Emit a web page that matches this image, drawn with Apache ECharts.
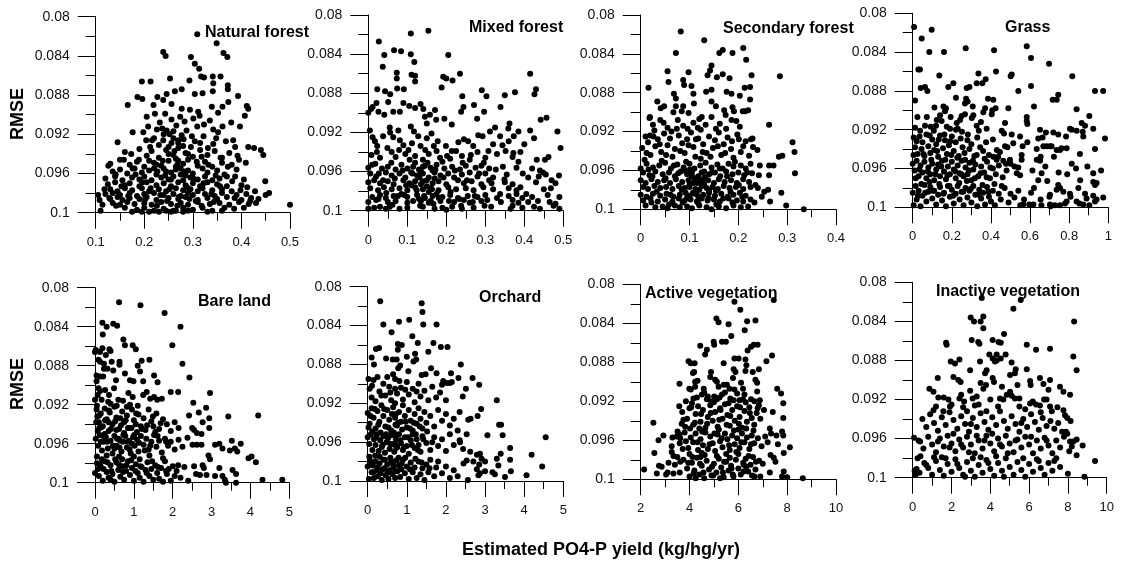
<!DOCTYPE html>
<html><head><meta charset="utf-8">
<script src="https://cdn.jsdelivr.net/npm/echarts@6/dist/echarts.min.js"></script>
<style>html,body{margin:0;padding:0;background:#fff}#c{width:1123px;height:566px}</style>
</head><body><div id="c"></div>
<script>
// ---------- DATA ----------
const panelTitles = ['Natural forest','Mixed forest','Secondary forest','Grass','Bare land','Orchard','Active vegetation','Inactive vegetation'];
// [min, max, interval] of each x axis
const xRanges = [[0.1,0.5,0.1],[0,0.5,0.1],[0,0.4,0.1],[0,1,0.2],[0,5,1],[0,5,1],[2,10,2],[0,10,2]];
const yRange = [0.08, 0.1, 0.004];
const yAxisName = 'RMSE';
const xAxisTitle = 'Estimated PO4-P yield (kg/hg/yr)';

const naturalForest = [
[0.309,0.0818],[0.349,0.0827],[0.239,0.0836],[0.244,0.0840],[0.296,0.0841],[0.363,0.0837],[0.371,0.0841],[0.304,0.0848],[0.313,0.0853],[0.317,0.0861],[0.323,0.0862],[0.341,0.0861],[0.357,0.0861],[0.253,0.0863],[0.195,0.0866],[0.213,0.0866],[0.293,0.0865],[0.342,0.0868],[0.372,0.0870],[0.372,0.0874],[0.277,0.0874],[0.263,0.0876],[0.246,0.0879],[0.227,0.0882],[0.186,0.0882],[0.196,0.0884],[0.304,0.0879],[0.320,0.0878],[0.341,0.0876],[0.393,0.0881],[0.373,0.0887],[0.411,0.0891],[0.414,0.0894],[0.407,0.0901],[0.166,0.0890],[0.219,0.0890],[0.239,0.0885],[0.256,0.0889],[0.277,0.0894],[0.294,0.0895],[0.311,0.0897],[0.314,0.0901],[0.339,0.0892],[0.352,0.0898],[0.361,0.0892],[0.205,0.0902],[0.222,0.0899],[0.243,0.0899],[0.256,0.0905],[0.274,0.0902],[0.283,0.0907],[0.301,0.0904],[0.323,0.0910],[0.335,0.0906],[0.361,0.0912],[0.379,0.0908],[0.397,0.0912],[0.176,0.0918],[0.198,0.0918],[0.208,0.0912],[0.226,0.0915],[0.246,0.0916],[0.260,0.0917],[0.277,0.0921],[0.298,0.0922],[0.322,0.0922],[0.342,0.0915],[0.352,0.0918],[0.145,0.0928],[0.204,0.0926],[0.220,0.0924],[0.239,0.0926],[0.256,0.0929],[0.270,0.0926],[0.315,0.0929],[0.342,0.0930],[0.368,0.0927],[0.383,0.0926],[0.414,0.0933],[0.426,0.0934],[0.440,0.0936],[0.445,0.0941],[0.387,0.0933],[0.392,0.0942],[0.409,0.0949],[0.173,0.0940],[0.150,0.0946],[0.158,0.0946],[0.130,0.0950],[0.126,0.0952],
[0.16,0.0938],[0.19,0.0935],[0.205,0.0942],[0.215,0.0937],[0.23,0.0944],[0.245,0.0936],[0.26,0.0941],[0.27,0.0934],[0.285,0.0939],[0.30,0.0943],[0.315,0.0936],[0.33,0.0941],[0.345,0.0937],[0.36,0.0944],[0.375,0.0939],
[0.17,0.0951],[0.185,0.0948],[0.20,0.0953],[0.22,0.0949],[0.235,0.0952],[0.25,0.0947],[0.265,0.0953],[0.28,0.0950],[0.29,0.0946],[0.31,0.0952],[0.325,0.0948],[0.34,0.0953],[0.36,0.0949],[0.38,0.0951],[0.395,0.0946],
[0.135,0.0958],[0.15,0.0956],[0.165,0.0960],[0.18,0.0955],[0.195,0.0959],[0.21,0.0957],[0.225,0.0961],[0.24,0.0955],[0.255,0.0959],[0.265,0.0956],[0.275,0.0961],[0.29,0.0957],[0.30,0.0960],[0.32,0.0955],[0.33,0.0959],[0.35,0.0957],[0.365,0.0961],[0.39,0.0956],
[0.12,0.0965],[0.14,0.0963],[0.155,0.0967],[0.175,0.0964],[0.19,0.0966],[0.20,0.0963],[0.215,0.0967],[0.235,0.0964],[0.25,0.0966],[0.26,0.0963],[0.28,0.0967],[0.295,0.0964],[0.31,0.0966],[0.325,0.0963],[0.34,0.0967],[0.355,0.0965],[0.37,0.0963],[0.405,0.0966],[0.449,0.0968],[0.387,0.0963],
[0.125,0.0971],[0.14,0.0969],[0.16,0.0972],[0.17,0.0970],[0.19,0.0973],[0.205,0.0969],[0.225,0.0972],[0.24,0.0970],[0.255,0.0973],[0.27,0.0969],[0.285,0.0972],[0.30,0.0970],[0.315,0.0973],[0.33,0.0969],[0.35,0.0971],[0.37,0.0973],[0.40,0.0972],[0.412,0.0974],
[0.13,0.0976],[0.145,0.0978],[0.16,0.0975],[0.175,0.0977],[0.195,0.0975],[0.21,0.0978],[0.23,0.0976],[0.245,0.0978],[0.265,0.0975],[0.28,0.0977],[0.295,0.0976],[0.31,0.0978],[0.32,0.0975],[0.34,0.0977],[0.36,0.0976],[0.38,0.0978],[0.428,0.0978],[0.118,0.0976],
[0.12,0.0981],[0.135,0.0980],[0.15,0.0982],[0.17,0.0980],[0.185,0.0983],[0.20,0.0981],[0.22,0.0980],[0.24,0.0982],[0.26,0.0981],[0.275,0.0983],[0.29,0.0980],[0.30,0.0982],[0.325,0.0981],[0.345,0.0983],[0.36,0.0980],[0.39,0.0982],[0.41,0.0981],[0.105,0.0982],[0.45,0.0982],[0.457,0.0980],
[0.13,0.0986],[0.145,0.0984],[0.155,0.0987],[0.17,0.0985],[0.19,0.0986],[0.205,0.0984],[0.225,0.0987],[0.25,0.0985],[0.27,0.0986],[0.285,0.0984],[0.31,0.0987],[0.33,0.0985],[0.35,0.0986],[0.37,0.0984],[0.40,0.0987],[0.42,0.0985],[0.435,0.0986],
[0.135,0.0990],[0.15,0.0992],[0.165,0.0989],[0.18,0.0991],[0.20,0.0990],[0.215,0.0992],[0.235,0.0989],[0.255,0.0991],[0.275,0.0990],[0.29,0.0992],[0.31,0.0989],[0.335,0.0991],[0.355,0.0990],[0.375,0.0992],[0.395,0.0989],[0.415,0.0991],[0.43,0.0990],[0.5,0.0992],
[0.16,0.0995],[0.185,0.0997],[0.20,0.0995],[0.22,0.0998],[0.24,0.0996],[0.26,0.0998],[0.28,0.0995],[0.30,0.0997],[0.32,0.0995],[0.34,0.0998],[0.385,0.0996],[0.405,0.0995],[0.11,0.0998],[0.175,0.0999],[0.195,0.0999],[0.21,0.0999],[0.23,0.0999],[0.245,0.0998],[0.255,0.0999],[0.265,0.0998],[0.28,0.0999],[0.29,0.0998],[0.33,0.0999],[0.36,0.0998],
[0.23,0.0931],[0.25,0.0933],[0.27,0.0929],[0.24,0.0920],[0.26,0.0924],[0.28,0.0932],[0.22,0.0955],[0.245,0.0958],[0.265,0.0945],[0.275,0.0955],[0.285,0.0962],[0.255,0.0966],[0.225,0.0951],[0.21,0.0947],[0.29,0.0940],[0.27,0.0947],[0.25,0.0940],
[0.212,0.0933],[0.238,0.0947],[0.262,0.0937],[0.281,0.0925],[0.296,0.0933],[0.308,0.0948],[0.227,0.0958],[0.243,0.0962],[0.268,0.0951],[0.283,0.0958],[0.301,0.0965],[0.318,0.0943],[0.332,0.0951],[0.347,0.0962],[0.196,0.0969],[0.213,0.0975],[0.233,0.0982],[0.252,0.0976],[0.271,0.0984],[0.288,0.0974],[0.306,0.0988],[0.322,0.0970],[0.338,0.0981],[0.356,0.0973],[0.182,0.0961],[0.167,0.0983],[0.153,0.0973],[0.142,0.0993],[0.226,0.0993],[0.247,0.0988],[0.268,0.0993],[0.293,0.0986],[0.318,0.0993],[0.343,0.0989],[0.365,0.0995],[0.381,0.0968],[0.398,0.0977],[0.418,0.0988],[0.237,0.0914],[0.252,0.0920],[0.287,0.0916],[0.304,0.0927],[0.331,0.0934],[0.216,0.0926],[0.189,0.0946],[0.176,0.0955],[0.266,0.0911],[0.232,0.0908],[0.309,0.0912],[0.348,0.0924],[0.357,0.0944],[0.372,0.0953],[0.386,0.0985],[0.202,0.0986],[0.141,0.0961],[0.128,0.0985],[0.114,0.0992],[0.108,0.0987]
];

const mixedForest = [
[0.154,0.0816],[0.109,0.0819],[0.027,0.0827],[0.041,0.0841],[0.066,0.0836],[0.084,0.0837],[0.109,0.0840],[0.118,0.0848],[0.205,0.0841],[0.037,0.0853],[0.073,0.0859],[0.073,0.0865],[0.111,0.0861],[0.12,0.0862],[0.12,0.0868],[0.192,0.0863],[0.2,0.0865],[0.216,0.0867],[0.188,0.0874],[0.235,0.0860],[0.415,0.0860],[0.43,0.0876],[0.426,0.0881],[0.023,0.0876],[0.043,0.0878],[0.056,0.0881],[0.074,0.0875],[0.091,0.0876],[0.021,0.0890],[0.011,0.0894],[0.0,0.0900],[0.026,0.0899],[0.041,0.0902],[0.051,0.0889],[0.064,0.0899],[0.081,0.0899],[0.09,0.0890],[0.105,0.0893],[0.12,0.0895],[0.134,0.0891],[0.141,0.0896],[0.158,0.0902],[0.171,0.0897],[0.174,0.0907],[0.195,0.0906],[0.214,0.0912],[0.241,0.0883],[0.238,0.0899],[0.244,0.0894],[0.271,0.0892],[0.291,0.0877],[0.303,0.0883],[0.297,0.0899],[0.279,0.0906],[0.339,0.0894],[0.35,0.0882],[0.376,0.0879],[0.362,0.0911],[0.359,0.0916],[0.457,0.0905],[0.442,0.0907],[0.415,0.0918],[0.425,0.0926],[0.385,0.0919],[0.485,0.0919],[0.493,0.0936],[0.489,0.0964],[0.145,0.0904],[0.15,0.0911],[0.007,0.0896],
[0.004,0.0918],[0.011,0.0925],[0.017,0.0929],[0.023,0.0934],[0.030,0.0946],[0.038,0.0924],[0.055,0.0915],[0.056,0.0920],[0.064,0.0925],[0.077,0.0918],[0.081,0.0928],[0.09,0.0933],[0.103,0.0938],[0.109,0.0914],[0.117,0.0919],[0.128,0.0924],[0.134,0.0934],[0.150,0.0926],[0.162,0.0921],[0.168,0.0934],[0.175,0.0939],[0.184,0.0946],[0.199,0.0934],[0.214,0.0939],[0.225,0.0939],[0.231,0.0930],[0.245,0.0927],[0.256,0.0929],[0.269,0.0934],[0.282,0.0923],[0.293,0.0924],[0.308,0.0939],[0.312,0.0919],[0.325,0.0915],[0.338,0.0924],[0.344,0.0933],[0.352,0.0939],[0.36,0.0929],[0.373,0.0924],[0.060,0.0940],[0.070,0.0945],[0.095,0.0942],[0.12,0.0944],[0.14,0.0948],[0.155,0.0942],[0.19,0.0950],[0.21,0.0947],[0.24,0.0944],[0.26,0.0948],[0.28,0.0940],[0.30,0.0946],[0.33,0.0942],[0.37,0.0945],[0.39,0.0940],[0.40,0.0932],[0.32,0.0932],[0.453,0.0948],[0.462,0.0945],[0.432,0.0948],[0.372,0.0941],
[0.0,0.0956],[0.01,0.0953],[0.035,0.0957],[0.05,0.0955],[0.07,0.0958],[0.085,0.0953],[0.10,0.0957],[0.115,0.0955],[0.13,0.0958],[0.145,0.0954],[0.16,0.0956],[0.175,0.0953],[0.195,0.0957],[0.215,0.0955],[0.235,0.0958],[0.25,0.0954],[0.275,0.0956],[0.29,0.0954],[0.31,0.0957],[0.345,0.0955],[0.38,0.0956],[0.42,0.0957],[0.44,0.0959],
[0.005,0.0962],[0.02,0.0965],[0.045,0.0961],[0.06,0.0964],[0.08,0.0962],[0.095,0.0966],[0.11,0.0961],[0.125,0.0964],[0.14,0.0962],[0.155,0.0966],[0.17,0.0961],[0.185,0.0964],[0.205,0.0962],[0.22,0.0966],[0.24,0.0963],[0.26,0.0961],[0.28,0.0965],[0.3,0.0962],[0.32,0.0966],[0.355,0.0963],[0.41,0.0966],[0.448,0.0961],[0.455,0.0963],
[0.0,0.0971],[0.015,0.0969],[0.03,0.0972],[0.05,0.0970],[0.065,0.0973],[0.09,0.0969],[0.105,0.0972],[0.12,0.0970],[0.135,0.0973],[0.15,0.0969],[0.165,0.0972],[0.18,0.0970],[0.2,0.0973],[0.23,0.0969],[0.245,0.0972],[0.265,0.0970],[0.29,0.0973],[0.31,0.0969],[0.35,0.0971],[0.37,0.0973],[0.43,0.0971],[0.47,0.0969],[0.48,0.0972],
[0.005,0.0977],[0.025,0.0979],[0.04,0.0976],[0.06,0.0978],[0.08,0.0977],[0.1,0.0979],[0.12,0.0976],[0.14,0.0978],[0.16,0.0977],[0.18,0.0979],[0.205,0.0976],[0.225,0.0978],[0.25,0.0977],[0.27,0.0979],[0.295,0.0976],[0.32,0.0978],[0.36,0.0977],[0.38,0.0979],[0.39,0.0976],[0.45,0.0978],[0.468,0.0977],
[0.01,0.0986],[0.03,0.0984],[0.045,0.0987],[0.065,0.0985],[0.085,0.0983],[0.1,0.0986],[0.125,0.0984],[0.145,0.0987],[0.165,0.0985],[0.19,0.0986],[0.21,0.0984],[0.23,0.0987],[0.255,0.0985],[0.28,0.0986],[0.3,0.0984],[0.33,0.0987],[0.36,0.0985],[0.38,0.0983],[0.395,0.0987],[0.42,0.0986],[0.46,0.0984],[0.49,0.0986],
[0.0,0.0991],[0.02,0.0989],[0.05,0.0991],[0.07,0.0990],[0.1,0.0992],[0.135,0.0990],[0.155,0.0992],[0.185,0.0990],[0.22,0.0991],[0.245,0.0989],[0.26,0.0992],[0.29,0.0990],[0.34,0.0991],[0.37,0.0989],[0.385,0.0992],[0.41,0.0991],[0.435,0.0990],[0.48,0.0993],
[0.0,0.0998],[0.015,0.0997],[0.03,0.0996],[0.045,0.0998],[0.055,0.0996],[0.08,0.0998],[0.1,0.0997],[0.14,0.0996],[0.17,0.0998],[0.19,0.0997],[0.2,0.0999],[0.215,0.0996],[0.24,0.0998],[0.27,0.0997],[0.315,0.0996],[0.365,0.0998],[0.37,0.0995],[0.395,0.0997],[0.425,0.0996],[0.44,0.0998],[0.475,0.0995],[0.49,0.0998],
[0.12,0.0951],[0.135,0.0960],[0.15,0.0975],[0.155,0.0981],[0.13,0.0988],[0.14,0.0955],[0.165,0.0959],[0.17,0.0967],[0.175,0.0983],[0.11,0.0974],[0.115,0.0990],[0.14,0.0970],[0.16,0.0990],
[0.008,0.0943],[0.018,0.0952],[0.027,0.0962],[0.038,0.0969],[0.046,0.0982],[0.059,0.0951],[0.068,0.0967],[0.076,0.0985],[0.088,0.0959],[0.097,0.0974],[0.106,0.0948],[0.113,0.0962],[0.124,0.0979],[0.131,0.0966],[0.143,0.0985],[0.152,0.0951],[0.163,0.0978],[0.172,0.0958],[0.181,0.0987],[0.193,0.0966],[0.202,0.0944],[0.211,0.0981],[0.222,0.0959],[0.233,0.0988],[0.242,0.0951],[0.253,0.0969],[0.263,0.0943],[0.273,0.0985],[0.284,0.0962],[0.296,0.0951],[0.305,0.0989],[0.316,0.0972],[0.327,0.0958],[0.338,0.0983],[0.349,0.0968],[0.026,0.0988],[0.062,0.0994],[0.092,0.0984],[0.133,0.0995],[0.167,0.0993],[0.207,0.0990],[0.238,0.0995],[0.268,0.0991],[0.298,0.0995],[0.022,0.0940],[0.049,0.0936],[0.079,0.0938],[0.112,0.0931],[0.146,0.0938],[0.178,0.0929],[0.396,0.0962],[0.405,0.0983],[0.437,0.0965],[0.465,0.0991],[0.385,0.0950]
];

const secondaryForest = [
[0.082,0.0817],[0.130,0.0826],[0.072,0.0839],[0.161,0.0839],[0.168,0.0836],[0.188,0.0839],[0.210,0.0834],[0.216,0.0846],[0.145,0.0852],[0.142,0.0857],[0.098,0.0859],[0.055,0.0858],[0.057,0.0869],[0.016,0.0875],[0.087,0.0867],[0.089,0.0872],[0.104,0.0873],[0.137,0.0862],[0.156,0.0864],[0.168,0.0861],[0.182,0.0865],[0.227,0.0862],[0.285,0.0863],[0.213,0.0875],[0.224,0.0874],[0.203,0.0883],[0.224,0.0887],[0.176,0.0879],[0.186,0.0881],[0.145,0.0877],[0.134,0.0879],[0.068,0.0881],[0.072,0.0886],[0.072,0.0894],[0.108,0.0881],[0.109,0.0891],[0.034,0.0889],[0.041,0.0896],[0.048,0.0894],[0.019,0.0905],[0.018,0.0906],[0.067,0.0900],[0.084,0.0899],[0.087,0.0894],[0.098,0.0901],[0.120,0.0907],[0.125,0.0905],[0.145,0.0889],[0.154,0.0894],[0.171,0.0898],[0.174,0.0903],[0.188,0.0895],[0.191,0.0899],[0.209,0.0899],[0.214,0.0899],[0.220,0.0898],[0.186,0.0908],[0.203,0.0915],[0.175,0.0917],[0.154,0.0917],[0.133,0.0913],[0.145,0.0905],[0.108,0.0911],[0.096,0.0917],[0.074,0.0917],[0.076,0.0908],[0.055,0.0916],[0.040,0.0908],[0.025,0.0913],[0.019,0.0924],[0.263,0.0913],[0.229,0.0927],[0.239,0.0939],[0.210,0.0935],[0.311,0.0931],[0.315,0.0941],[0.290,0.0945],[0.283,0.0946],[0.263,0.0955],[0.272,0.0955],[0.244,0.0955],[0.316,0.0963],[0.263,0.0965],[0.261,0.0980],[0.288,0.0983],[0.265,0.0992],[0.298,0.0996],[0.334,0.1000],[0.253,0.0982],
[0.003,0.0937],[0.01,0.0925],[0.015,0.0931],[0.02,0.0944],[0.028,0.0919],[0.03,0.0935],[0.035,0.0928],[0.042,0.0941],[0.048,0.0922],[0.055,0.0934],[0.06,0.0927],[0.065,0.0946],[0.07,0.0938],[0.078,0.0924],[0.085,0.0932],[0.09,0.0942],[0.095,0.0928],[0.103,0.0921],[0.108,0.0936],[0.112,0.0946],[0.118,0.0927],[0.123,0.0918],[0.128,0.0933],[0.135,0.0942],[0.14,0.0925],[0.148,0.0937],[0.152,0.0929],[0.16,0.0921],[0.165,0.0944],[0.17,0.0933],[0.178,0.0926],[0.185,0.0938],[0.19,0.0947],[0.198,0.0923],[0.205,0.0941],[0.215,0.0930],[0.222,0.0945],[0.23,0.0936],
[0.0,0.0958],[0.012,0.0953],[0.025,0.0957],[0.038,0.0955],[0.05,0.0952],[0.062,0.0958],[0.075,0.0954],[0.088,0.0957],[0.1,0.0953],[0.11,0.0958],[0.122,0.0955],[0.133,0.0952],[0.145,0.0957],[0.157,0.0954],[0.168,0.0958],[0.18,0.0953],[0.19,0.0956],[0.205,0.0955],[0.215,0.0958],[0.225,0.0953],
[0.005,0.0962],[0.018,0.0965],[0.03,0.0961],[0.045,0.0964],[0.058,0.0962],[0.07,0.0966],[0.082,0.0961],[0.095,0.0964],[0.105,0.0962],[0.118,0.0966],[0.13,0.0961],[0.14,0.0964],[0.152,0.0962],[0.163,0.0966],[0.175,0.0961],[0.188,0.0964],[0.2,0.0962],[0.212,0.0965],[0.228,0.0963],
[0.0,0.0970],[0.01,0.0973],[0.022,0.0969],[0.035,0.0972],[0.048,0.0970],[0.06,0.0973],[0.072,0.0969],[0.085,0.0972],[0.098,0.0970],[0.108,0.0973],[0.12,0.0969],[0.127,0.0972],[0.138,0.0970],[0.15,0.0973],[0.16,0.0969],[0.172,0.0972],[0.185,0.0970],[0.197,0.0973],[0.21,0.0969],[0.222,0.0972],[0.235,0.0975],
[0.005,0.0977],[0.015,0.0979],[0.028,0.0976],[0.04,0.0978],[0.052,0.0977],[0.065,0.0979],[0.078,0.0976],[0.09,0.0978],[0.1,0.0977],[0.112,0.0979],[0.125,0.0976],[0.135,0.0978],[0.147,0.0977],[0.158,0.0979],[0.17,0.0976],[0.182,0.0978],[0.195,0.0977],[0.21,0.0979],[0.225,0.0977],[0.24,0.0978],
[0.0,0.0985],[0.012,0.0987],[0.025,0.0984],[0.04,0.0986],[0.053,0.0984],[0.067,0.0987],[0.08,0.0985],[0.092,0.0983],[0.1,0.0986],[0.11,0.0984],[0.118,0.0987],[0.128,0.0985],[0.14,0.0983],[0.152,0.0986],[0.165,0.0984],[0.178,0.0987],[0.19,0.0985],[0.203,0.0983],[0.215,0.0986],
[0.005,0.0991],[0.02,0.0989],[0.035,0.0992],[0.05,0.0990],[0.065,0.0992],[0.078,0.0989],[0.09,0.0991],[0.102,0.0990],[0.115,0.0992],[0.125,0.0989],[0.137,0.0991],[0.15,0.0990],[0.162,0.0992],[0.18,0.0989],[0.197,0.0991],[0.21,0.0992],[0.225,0.0990],
[0.01,0.0996],[0.03,0.0998],[0.045,0.0997],[0.055,0.0999],[0.07,0.0996],[0.08,0.0998],[0.095,0.0997],[0.105,0.0999],[0.12,0.0996],[0.135,0.0998],[0.145,0.1000],[0.16,0.0997],[0.175,0.0999],[0.19,0.0996],[0.205,0.0998],[0.22,0.0997],
[0.09,0.0960],[0.11,0.0968],[0.13,0.0975],[0.115,0.0982],[0.1,0.0975],[0.125,0.0962],[0.14,0.0981],[0.095,0.0988],[0.12,0.0980],[0.105,0.0966],
[0.008,0.0949],[0.016,0.0959],[0.024,0.0966],[0.033,0.0982],[0.043,0.0950],[0.051,0.0968],[0.061,0.0985],[0.068,0.0955],[0.077,0.0963],[0.084,0.0980],[0.093,0.0951],[0.101,0.0959],[0.107,0.0983],[0.116,0.0973],[0.123,0.0948],[0.131,0.0967],[0.139,0.0988],[0.146,0.0962],[0.154,0.0981],[0.162,0.0958],[0.169,0.0989],[0.177,0.0966],[0.184,0.0982],[0.193,0.0951],[0.201,0.0975],[0.208,0.0987],[0.218,0.0962],[0.012,0.0942],[0.026,0.0925],[0.039,0.0933],[0.052,0.0944],[0.063,0.0920],[0.081,0.0940],[0.098,0.0934],[0.113,0.0928],[0.127,0.0941],[0.143,0.0946],[0.158,0.0935],[0.173,0.0942],[0.187,0.0930],[0.201,0.0928],[0.226,0.0928],[0.242,0.0965],[0.248,0.0987],[0.233,0.0993],[0.022,0.0993],[0.058,0.0995],[0.086,0.0993],[0.118,0.0994],[0.155,0.0995],[0.188,0.0993],[0.047,0.0911],[0.087,0.0914],[0.117,0.0916],[0.162,0.0912],[0.196,0.0909]
];

const grass = [
[0.007,0.0814],[0.046,0.0826],[0.097,0.0817],[0.085,0.0840],[0.160,0.0840],[0.271,0.0836],[0.416,0.0838],[0.583,0.0834],[0.605,0.0846],[0.697,0.0852],[0.816,0.0865],[0.029,0.0858],[0.037,0.0858],[0.136,0.0864],[0.336,0.0862],[0.373,0.0868],[0.356,0.0872],[0.426,0.0860],[0.506,0.0863],[0.501,0.0865],[0.041,0.0877],[0.063,0.0876],[0.075,0.0880],[0.182,0.0876],[0.208,0.0872],[0.221,0.0887],[0.276,0.0877],[0.290,0.0876],[0.327,0.0872],[0.540,0.0880],[0.605,0.0875],[0.620,0.0896],[0.744,0.0884],[0.736,0.0889],[0.716,0.0889],[0.932,0.0880],[0.974,0.0880],[0.012,0.0890],[0.111,0.0897],[0.157,0.0896],[0.170,0.0898],[0.165,0.0901],[0.194,0.0907],[0.072,0.0907],[0.024,0.0907],[0.123,0.0910],[0.119,0.0916],[0.092,0.0917],[0.267,0.0893],[0.281,0.0891],[0.273,0.0888],[0.307,0.0896],[0.310,0.0905],[0.302,0.0908],[0.361,0.0902],[0.370,0.0898],[0.385,0.0888],[0.412,0.0889],[0.407,0.0900],[0.404,0.0904],[0.424,0.0898],[0.349,0.0912],[0.378,0.0919],[0.327,0.0916],[0.250,0.0906],[0.267,0.0904],[0.225,0.0913],[0.242,0.0910],[0.174,0.0917],[0.191,0.0919],[0.148,0.0911],[0.140,0.0905],[0.221,0.0920],[0.230,0.0919],[0.489,0.0898],[0.472,0.0913],[0.455,0.0921],[0.467,0.0924],[0.506,0.0925],[0.583,0.0907],[0.583,0.0911],[0.586,0.0914],[0.549,0.0927],[0.586,0.0933],[0.651,0.0920],[0.664,0.0928],[0.681,0.0923],[0.719,0.0923],[0.744,0.0925],[0.784,0.0927],[0.804,0.0919],[0.813,0.0920],[0.838,0.0921],[0.872,0.0927],[0.838,0.0899],[0.864,0.0913],[0.869,0.0922],[0.903,0.0906],[0.881,0.0916],[0.923,0.0919],[0.983,0.0929],[0.932,0.0940],[0.855,0.0945],[0.835,0.0960],[0.787,0.0939],[0.753,0.0941],[0.761,0.0939],[0.736,0.0941],[0.710,0.0937],[0.702,0.0937],[0.685,0.0937],[0.668,0.0937],[0.634,0.0940],[0.642,0.0929],[0.562,0.0937],[0.514,0.0934],[0.472,0.0937],[0.484,0.0938],[0.446,0.0943],[0.412,0.0948],[0.429,0.0951],[0.463,0.0952],[0.497,0.0951],[0.557,0.0946],[0.557,0.0951],[0.540,0.0959],[0.549,0.0967],[0.532,0.0965],[0.634,0.0951],[0.651,0.0952],[0.654,0.0948],[0.659,0.0965],[0.642,0.0972],[0.620,0.0980],[0.746,0.0964],[0.790,0.0966],[0.744,0.0977],[0.753,0.0980],[0.702,0.0987],[0.699,0.0989],[0.736,0.0982],[0.770,0.0984],[0.804,0.0986],[0.807,0.0989],[0.847,0.0980],[0.881,0.0986],[0.889,0.0991],[0.923,0.0965],[0.923,0.0974],[0.932,0.0977],[0.940,0.0975],[0.923,0.0988],[0.974,0.0990],[0.940,0.0992],[0.932,0.0994],[0.903,0.0998],[0.872,0.0997],[0.838,0.0994],[0.852,0.0996],[0.787,0.0994],[0.779,0.0996],[0.753,0.0998],[0.727,0.0998],[0.702,0.0997],[0.705,0.0999],[0.654,0.0992],[0.658,0.0998],[0.617,0.0997],[0.596,0.0997],[0.566,0.0997],[0.569,0.0992],
[0.005,0.0928],[0.012,0.0938],[0.02,0.0932],[0.025,0.0945],[0.035,0.0927],[0.045,0.0940],[0.05,0.0933],[0.06,0.0947],[0.07,0.0925],[0.08,0.0937],[0.09,0.0944],[0.1,0.0930],[0.11,0.0941],[0.12,0.0935],[0.13,0.0948],[0.14,0.0926],[0.155,0.0939],[0.165,0.0931],[0.175,0.0945],[0.185,0.0936],[0.2,0.0927],[0.21,0.0942],[0.22,0.0933],[0.235,0.0947],[0.245,0.0929],[0.255,0.0938],[0.265,0.0944],[0.28,0.0931],[0.29,0.0940],[0.3,0.0935],[0.315,0.0947],[0.33,0.0928],[0.345,0.0938],[0.36,0.0942],[0.375,0.0933],[0.39,0.0946],[0.41,0.0930],[0.43,0.0941],
[0.0,0.0955],[0.01,0.0962],[0.02,0.0952],[0.03,0.0968],[0.04,0.0957],[0.05,0.0964],[0.06,0.0953],[0.07,0.0970],[0.08,0.0959],[0.09,0.0966],[0.1,0.0955],[0.11,0.0972],[0.12,0.0961],[0.13,0.0956],[0.14,0.0968],[0.15,0.0952],[0.16,0.0963],[0.17,0.0971],[0.18,0.0958],[0.19,0.0966],[0.2,0.0953],[0.21,0.0961],[0.22,0.0970],[0.23,0.0957],[0.24,0.0965],[0.25,0.0952],[0.26,0.0968],[0.27,0.0959],[0.28,0.0966],[0.29,0.0954],[0.3,0.0972],[0.31,0.0961],[0.32,0.0956],[0.335,0.0968],[0.35,0.0958],[0.365,0.0964],[0.38,0.0953],[0.395,0.0970],[0.41,0.0960],[0.425,0.0966],[0.44,0.0957],[0.46,0.0969],[0.48,0.0962],[0.5,0.0955],[0.52,0.0958],
[0.0,0.0985],[0.005,0.0998],[0.015,0.0978],[0.02,0.0992],[0.03,0.0983],[0.04,0.0999],[0.05,0.0988],[0.06,0.0977],[0.07,0.0994],[0.08,0.0984],[0.09,0.0979],[0.1,0.0991],[0.11,0.0983],[0.12,0.0997],[0.13,0.0987],[0.14,0.0979],[0.15,0.0993],[0.16,0.0985],[0.17,0.0999],[0.18,0.0978],[0.19,0.0989],[0.2,0.0982],[0.21,0.0996],[0.22,0.0986],[0.23,0.0978],[0.24,0.0992],[0.25,0.0984],[0.26,0.0998],[0.27,0.0980],[0.28,0.0990],[0.29,0.0983],[0.3,0.0995],[0.31,0.0978],[0.32,0.0987],[0.33,0.0999],[0.34,0.0982],[0.35,0.0991],[0.36,0.0985],[0.37,0.0997],[0.38,0.0979],[0.39,0.0989],[0.4,0.0994],[0.41,0.0983],[0.42,0.0998],[0.44,0.0986],[0.45,0.0992],[0.47,0.0980],[0.49,0.0995],[0.5,0.0986],[0.52,0.0990],[0.54,0.0983],[0.55,0.0998],
[0.004,0.0946],[0.015,0.0970],[0.027,0.0988],[0.034,0.0961],[0.044,0.0976],[0.055,0.0945],[0.064,0.0985],[0.077,0.0963],[0.086,0.0974],[0.095,0.0951],[0.104,0.0983],[0.116,0.0966],[0.125,0.0942],[0.136,0.0976],[0.146,0.0958],[0.157,0.0986],[0.167,0.0951],[0.178,0.0967],[0.188,0.0978],[0.197,0.0946],[0.207,0.0988],[0.218,0.0963],[0.228,0.0949],[0.238,0.0975],[0.249,0.0966],[0.258,0.0984],[0.268,0.0951],[0.277,0.0973],[0.288,0.0962],[0.297,0.0981],[0.308,0.0952],[0.318,0.0970],[0.327,0.0946],[0.338,0.0987],[0.347,0.0965],[0.357,0.0977],[0.368,0.0950],[0.378,0.0969],[0.388,0.0984],[0.397,0.0959],[0.418,0.0976],[0.437,0.0948],[0.455,0.0978],[0.477,0.0955],[0.012,0.0918],[0.038,0.0921],[0.063,0.0916],[0.087,0.0926],[0.108,0.0921],[0.133,0.0930],[0.162,0.0925],[0.192,0.0932],[0.252,0.0922],[0.282,0.0925],[0.338,0.0921],[0.612,0.0962],[0.678,0.0958],[0.722,0.0948],[0.813,0.0955],[0.856,0.0972],[0.893,0.0958],[0.963,0.0962],[0.605,0.0985],[0.688,0.0973]
];

const bareLand = [
[0.62,0.0815],[1.17,0.0818],[1.79,0.0826],[2.20,0.0840],[1.99,0.0859],[2.25,0.0878],[2.43,0.0892],[1.95,0.0907],[2.14,0.0907],[2.96,0.0908],[2.53,0.0918],[2.67,0.0928],[2.86,0.0923],[2.42,0.0931],[2.94,0.0934],[2.94,0.0944],[2.77,0.0938],[3.43,0.0932],[4.20,0.0931],[2.50,0.0944],[2.55,0.0946],[2.74,0.0950],[2.62,0.0949],[2.38,0.0954],[2.51,0.0961],[2.62,0.0961],[2.74,0.0961],[3.09,0.0961],[3.20,0.0960],[3.52,0.0957],[3.60,0.0965],[3.75,0.0960],[3.66,0.0968],[3.28,0.0965],[3.47,0.0967],[2.92,0.0972],[2.96,0.0976],[2.77,0.0982],[2.80,0.0985],[2.55,0.0983],[2.60,0.0991],[2.70,0.0992],[2.87,0.0992],[3.09,0.0993],[3.20,0.0985],[3.28,0.0993],[3.34,0.0997],[3.37,0.1000],[3.54,0.0987],[3.63,0.0991],[3.63,0.1000],[3.95,0.0975],[4.03,0.0973],[4.14,0.0979],[4.31,0.0997],[4.82,0.0997],
[0.19,0.0836],[0.20,0.0848],[0.30,0.0840],[0.47,0.0837],[0.57,0.0839],[0.02,0.0864],[0.0,0.0866],[0.19,0.0862],[0.13,0.0866],[0.37,0.0863],[0.40,0.0865],[0.28,0.0869],[0.73,0.0853],[0.77,0.0859],[0.97,0.0859],[1.05,0.0863],[0.09,0.0874],[0.13,0.0876],[0.23,0.0878],[0.43,0.0876],[0.63,0.0876],[0.63,0.0879],[1.10,0.0880],[1.20,0.0875],[1.40,0.0874],[0.04,0.0890],[0.13,0.0891],[0.21,0.0891],[0.04,0.0896],[0.23,0.0883],[0.32,0.0883],[0.47,0.0885],[0.54,0.0895],[0.77,0.0888],[0.90,0.0895],[0.99,0.0896],[1.16,0.0886],[1.24,0.0896],[1.52,0.0890],[1.61,0.0897],[0.09,0.0903],[0.13,0.0906],[0.0,0.0915],[0.34,0.0917],[0.49,0.0903],[0.60,0.0915],[0.86,0.0908],[0.97,0.0912],[1.24,0.0910],[1.33,0.0907],[1.42,0.0914],[1.52,0.0912],[1.60,0.0915],[1.72,0.0914],[0.04,0.0925],[0.06,0.0932],[0.11,0.0944],
[0.05,0.0921],[0.15,0.0929],[0.25,0.0924],[0.3,0.0935],[0.38,0.0928],[0.45,0.0940],[0.5,0.0922],[0.55,0.0933],[0.62,0.0945],[0.7,0.0927],[0.75,0.0938],[0.82,0.0931],[0.88,0.0944],[0.95,0.0925],[1.0,0.0936],[1.08,0.0948],[1.12,0.0930],[1.18,0.0942],[1.25,0.0934],[1.3,0.0946],[1.38,0.0925],[1.45,0.0937],[1.5,0.0942],[1.58,0.0929],[1.65,0.0945],[1.75,0.0935],[1.85,0.0940],[1.95,0.0947],[2.05,0.0938],[2.15,0.0944],[0.2,0.0942],[0.35,0.0947],[0.65,0.0934],[0.9,0.0920],[1.55,0.0948],[0.1,0.0938],[0.4,0.0919],
[0.02,0.0955],[0.08,0.0962],[0.12,0.0951],[0.18,0.0967],[0.22,0.0958],[0.28,0.0953],[0.33,0.0965],[0.4,0.0957],[0.45,0.0970],[0.5,0.0952],[0.55,0.0962],[0.6,0.0955],[0.68,0.0968],[0.72,0.0958],[0.78,0.0952],[0.82,0.0964],[0.88,0.0957],[0.92,0.0970],[0.98,0.0953],[1.02,0.0962],[1.08,0.0956],[1.12,0.0968],[1.18,0.0952],[1.25,0.0961],[1.32,0.0955],[1.38,0.0966],[1.45,0.0958],[1.52,0.0951],[1.58,0.0963],[1.65,0.0957],[1.72,0.0969],[1.8,0.0955],[1.88,0.0962],[1.95,0.0958],[2.05,0.0966],[2.15,0.0956],[2.25,0.0963],[0.3,0.0972],[0.62,0.0973],[1.0,0.0973],[1.4,0.0972],
[0.0,0.0990],[0.05,0.0980],[0.1,0.0993],[0.15,0.0984],[0.2,0.0998],[0.25,0.0978],[0.3,0.0989],[0.35,0.0995],[0.4,0.0982],[0.45,0.0991],[0.5,0.0999],[0.55,0.0979],[0.6,0.0987],[0.65,0.0994],[0.7,0.0983],[0.75,0.0997],[0.8,0.0988],[0.85,0.0978],[0.9,0.0992],[0.95,0.0985],[1.0,0.0998],[1.05,0.0981],[1.1,0.0990],[1.15,0.0995],[1.2,0.0984],[1.25,0.0999],[1.3,0.0987],[1.35,0.0979],[1.4,0.0993],[1.45,0.0986],[1.5,0.0997],[1.55,0.0982],[1.6,0.0990],[1.65,0.0996],[1.7,0.0985],[1.75,0.0999],[1.8,0.0978],[1.85,0.0991],[1.9,0.0986],[1.95,0.0998],[2.0,0.0983],[2.05,0.0993],[2.1,0.0988],[2.2,0.0995],[2.3,0.0984],[2.4,0.0998],[0.08,0.0986],[0.4,0.0997],[0.7,0.0976],[1.15,0.0976],[0.18,0.0976],[1.75,0.0975],
[0.35,0.0938],[0.55,0.0946],[0.75,0.0949],[0.95,0.0960],[0.5,0.0965],[0.85,0.0944],[0.25,0.0950],[1.05,0.0940],[0.65,0.0957],[0.15,0.0958],
[0.03,0.0938],[0.07,0.0947],[0.11,0.0931],[0.16,0.0943],[0.21,0.0952],[0.26,0.0936],[0.31,0.0958],[0.36,0.0926],[0.41,0.0945],[0.46,0.0962],[0.52,0.0937],[0.57,0.0955],[0.63,0.0964],[0.67,0.0941],[0.73,0.0951],[0.79,0.0936],[0.84,0.0958],[0.89,0.0966],[0.94,0.0944],[1.01,0.0951],[1.06,0.0929],[1.13,0.0959],[1.21,0.0945],[1.28,0.0967],[1.34,0.0941],[1.42,0.0962],[1.49,0.0932],[1.61,0.0952],[1.69,0.0939],[1.83,0.0958],[0.05,0.0973],[0.13,0.0981],[0.22,0.0986],[0.32,0.0979],[0.42,0.0988],[0.52,0.0976],[0.61,0.0981],[0.72,0.0989],[0.81,0.0982],[0.93,0.0977],[1.04,0.0988],[1.17,0.0983],[1.33,0.0990],[1.47,0.0978],[1.62,0.0984],[1.83,0.0988],[2.14,0.0982],[0.26,0.0905],[0.36,0.0910],[0.56,0.0921],[0.72,0.0916],[0.82,0.0922],[1.1,0.0921],[0.17,0.0915],[0.07,0.0910]
];

const orchard = [
[0.32,0.0815],[1.38,0.0817],[1.40,0.0826],[0.40,0.0839],[0.80,0.0836],[1.06,0.0834],[1.42,0.0839],[1.76,0.0839],[0.61,0.0847],[1.14,0.0851],[1.28,0.0858],[0.21,0.0864],[0.29,0.0863],[0.77,0.0859],[0.87,0.0860],[0.77,0.0865],[1.68,0.0858],[1.55,0.0867],[1.87,0.0862],[2.04,0.0862],[0.10,0.0873],[0.16,0.0880],[0.47,0.0874],[0.64,0.0875],[0.74,0.0875],[1.0,0.0872],[1.21,0.0869],[1.24,0.0875],[1.17,0.0877],[0.78,0.0884],[0.83,0.0881],[1.04,0.0887],[1.38,0.0891],[1.48,0.0890],[1.62,0.0884],[1.76,0.0889],[2.38,0.0880],[2.13,0.0889],[2.32,0.0894],[2.68,0.0894],[2.85,0.0901],[2.51,0.0905],[2.43,0.0913],[1.93,0.0897],[2.15,0.0898],[1.90,0.0901],[2.02,0.0899],[2.10,0.0899],[3.30,0.0917],[2.90,0.0926],[2.81,0.0933],[2.63,0.0936],[2.57,0.0937],[3.36,0.0942],[3.41,0.0942],[3.45,0.0953],[3.06,0.0953],[4.55,0.0955],[2.53,0.0952],[2.30,0.0948],[3.64,0.0966],[4.19,0.0973],[4.46,0.0985],[3.40,0.0972],[3.30,0.0977],[3.34,0.0984],[3.64,0.0978],[3.66,0.0990],[4.06,0.0994],[3.51,0.0996],[3.19,0.0991],[3.25,0.0993],[2.87,0.0972],[2.79,0.0973],[2.91,0.0977],[3.0,0.0980],[2.70,0.0980],[2.85,0.0983],[2.79,0.0988],[2.53,0.0979],[2.62,0.0970],[2.44,0.0967],[2.36,0.0960],[2.56,0.0999],[2.83,0.0994],[2.87,0.0992],[3.0,0.0990],
[0.05,0.0905],[0.1,0.0914],[0.15,0.0896],[0.2,0.0918],[0.3,0.0908],[0.4,0.0900],[0.45,0.0912],[0.55,0.0903],[0.6,0.0917],[0.7,0.0895],[0.75,0.0910],[0.85,0.0904],[0.9,0.0916],[1.0,0.0898],[1.05,0.0911],[1.15,0.0905],[1.2,0.0919],[1.3,0.0900],[1.35,0.0913],[1.45,0.0907],[1.55,0.0917],[1.65,0.0903],[1.75,0.0914],[1.85,0.0909],[2.0,0.0917],[0.25,0.0893],[0.5,0.0893],[0.02,0.0895],[0.65,0.0890],
[0.0,0.0930],[0.05,0.0941],[0.1,0.0925],[0.15,0.0935],[0.2,0.0946],[0.25,0.0928],[0.3,0.0939],[0.35,0.0922],[0.4,0.0933],[0.45,0.0944],[0.5,0.0927],[0.55,0.0937],[0.6,0.0948],[0.65,0.0924],[0.7,0.0935],[0.75,0.0943],[0.8,0.0929],[0.85,0.0939],[0.9,0.0922],[0.95,0.0933],[1.0,0.0945],[1.05,0.0927],[1.1,0.0938],[1.15,0.0948],[1.2,0.0931],[1.25,0.0941],[1.3,0.0925],[1.35,0.0936],[1.4,0.0946],[1.45,0.0929],[1.5,0.0940],[1.6,0.0933],[1.7,0.0944],[1.8,0.0927],[1.9,0.0938],[2.0,0.0931],[2.1,0.0943],[2.2,0.0936],[2.35,0.0929],[0.7,0.0920],[0.72,0.0931],[0.71,0.0942],
[0.0,0.0955],[0.04,0.0962],[0.08,0.0952],[0.12,0.0968],[0.16,0.0957],[0.2,0.0963],[0.24,0.0952],[0.28,0.0969],[0.32,0.0958],[0.36,0.0965],[0.4,0.0954],[0.44,0.0971],[0.48,0.0960],[0.52,0.0956],[0.56,0.0967],[0.6,0.0953],[0.64,0.0962],[0.68,0.0970],[0.72,0.0957],[0.76,0.0965],[0.8,0.0952],[0.85,0.0961],[0.9,0.0968],[0.95,0.0955],[1.0,0.0964],[1.05,0.0972],[1.1,0.0958],[1.15,0.0952],[1.2,0.0966],[1.25,0.0957],[1.3,0.0963],[1.35,0.0970],[1.4,0.0954],[1.5,0.0961],[1.6,0.0968],[1.7,0.0955],[1.8,0.0964],[1.9,0.0957],[2.0,0.0969],[2.1,0.0952],[2.2,0.0963],[2.35,0.0958],
[0.0,0.0985],[0.03,0.0998],[0.06,0.0979],[0.1,0.0991],[0.13,0.0984],[0.16,0.0997],[0.2,0.0980],[0.23,0.0989],[0.26,0.0995],[0.3,0.0982],[0.33,0.0992],[0.36,0.0999],[0.4,0.0978],[0.43,0.0987],[0.46,0.0994],[0.5,0.0983],[0.53,0.0998],[0.56,0.0989],[0.6,0.0980],[0.63,0.0993],[0.66,0.0986],[0.7,0.0997],[0.73,0.0979],[0.76,0.0990],[0.8,0.0984],[0.83,0.0996],[0.86,0.0988],[0.9,0.0978],[0.95,0.0992],[1.0,0.0985],[1.05,0.0998],[1.1,0.0981],[1.15,0.0991],[1.2,0.0986],[1.25,0.0997],[1.3,0.0980],[1.35,0.0993],[1.4,0.0987],[1.45,0.0999],[1.5,0.0983],[1.55,0.0991],[1.6,0.0978],[1.7,0.0995],[1.75,0.0986],[1.8,0.0980],[1.9,0.0992],[2.0,0.0985],[2.1,0.0997],[2.2,0.0989],[2.3,0.0995],[2.45,0.0982],
[0.02,0.0945],[0.07,0.0933],[0.12,0.0949],[0.18,0.0926],[0.22,0.0955],[0.27,0.0942],[0.33,0.0950],[0.38,0.0963],[0.42,0.0926],[0.47,0.0952],[0.53,0.0945],[0.58,0.0962],[0.62,0.0931],[0.67,0.0950],[0.73,0.0966],[0.78,0.0940],[0.83,0.0958],[0.88,0.0947],[0.93,0.0965],[0.97,0.0939],[1.03,0.0955],[1.08,0.0946],[1.13,0.0963],[1.18,0.0940],[1.23,0.0952],[1.28,0.0968],[1.33,0.0944],[1.42,0.0957],[1.52,0.0949],[1.65,0.0960],[0.04,0.0975],[0.09,0.0982],[0.14,0.0991],[0.19,0.0974],[0.25,0.0986],[0.31,0.0975],[0.38,0.0988],[0.44,0.0978],[0.51,0.0991],[0.58,0.0976],[0.65,0.0983],[0.71,0.0990],[0.79,0.0976],[0.87,0.0982],[0.96,0.0976],[1.08,0.0988],[1.22,0.0977],[1.38,0.0981],[1.58,0.0987],[0.11,0.0902],[0.35,0.0912],[0.58,0.0909],[0.81,0.0897],[0.96,0.0906],[1.25,0.0908],[0.7,0.0905],[0.72,0.0953],[0.7,0.0962]
];

const activeVegetation = [
[5.84,0.0818],[7.45,0.0816],[6.08,0.0826],[5.10,0.0835],[5.19,0.0839],[5.60,0.0841],[6.70,0.0837],[6.36,0.0838],[6.26,0.0847],[5.71,0.0853],[5.33,0.0859],[5.49,0.0859],[4.99,0.0859],[5.01,0.0862],[4.44,0.0863],[4.71,0.0867],[4.64,0.0872],[6.38,0.0868],[6.52,0.0864],[6.63,0.0862],[6.79,0.0862],[5.84,0.0876],[6.01,0.0876],[6.29,0.0877],[7.38,0.0873],[7.15,0.0879],[6.84,0.0887],[3.96,0.0879],[4.05,0.0881],[4.21,0.0881],[4.14,0.0891],[4.19,0.0890],[4.88,0.0890],[4.85,0.0895],[5.40,0.0881],[5.88,0.0890],[5.81,0.0887],[5.78,0.0896],[6.33,0.0883],[6.29,0.0889],[6.59,0.0890],[6.70,0.0898],[5.05,0.0898],[5.12,0.0900],[3.59,0.0902],[4.23,0.0900],[4.33,0.0899],[3.99,0.0907],[4.05,0.0908],[4.23,0.0905],[4.58,0.0907],[4.60,0.0911],[5.19,0.0905],[5.40,0.0903],[5.53,0.0903],[5.64,0.0907],[6.11,0.0901],[6.19,0.0907],[5.84,0.0908],[5.95,0.0912],[6.77,0.0901],[6.77,0.0910],[7.59,0.0907],[7.75,0.0912],[7.84,0.0922],[7.84,0.0937],[7.41,0.0931],[6.88,0.0919],[6.84,0.0924],[6.79,0.0927],[6.52,0.0918],[6.66,0.0920],[6.05,0.0919],[6.19,0.0918],[5.67,0.0917],[5.81,0.0919],[5.33,0.0913],[5.23,0.0916],[5.01,0.0915],[5.12,0.0918],[4.89,0.0920],[4.16,0.0917],[4.30,0.0916],[4.51,0.0913],[4.71,0.0918],[3.85,0.0920],[3.58,0.0925],[4.07,0.0926],[2.52,0.0942],[2.73,0.0960],[2.93,0.0955],[2.56,0.0973],[2.14,0.0990],[2.66,0.0994],[2.75,0.0986],[2.86,0.0987],[3.14,0.0983],[3.10,0.0993],[3.04,0.0995],[3.34,0.0994],[3.27,0.0966],[3.34,0.0976],[3.27,0.0972],[3.51,0.0951],[3.59,0.0954],[3.62,0.0958],[3.68,0.0943],[3.75,0.0939],[3.82,0.0946],[3.48,0.0956],[7.29,0.0948],[7.34,0.0953],[7.56,0.0955],[7.62,0.0964],[7.79,0.0951],[7.84,0.0955],[8.11,0.0967],[7.86,0.0973],[7.32,0.0975],[7.45,0.0978],[7.52,0.0982],[7.86,0.0992],[7.79,0.0997],[8.0,0.0998],[7.29,0.0993],[7.0,0.0984],[6.56,0.0996],[6.66,0.0997],[6.90,0.0997],[8.64,0.0999],[6.32,0.0987],[6.22,0.0992],
[3.7,0.0931],[3.9,0.0938],[4.0,0.0927],[4.15,0.0944],[4.25,0.0933],[4.35,0.0925],[4.45,0.0941],[4.55,0.0929],[4.65,0.0947],[4.75,0.0936],[4.85,0.0924],[4.95,0.0940],[5.05,0.0931],[5.15,0.0946],[5.25,0.0927],[5.35,0.0938],[5.45,0.0923],[5.55,0.0934],[5.65,0.0945],[5.75,0.0929],[5.85,0.0940],[5.95,0.0925],[6.05,0.0936],[6.15,0.0947],[6.25,0.0930],[6.35,0.0941],[6.45,0.0926],[6.55,0.0937],[6.65,0.0944],[6.75,0.0932],[6.9,0.0938],[7.05,0.0929],[4.1,0.0922],[5.0,0.0921],[5.6,0.0922],[6.3,0.0921],[4.4,0.0948],[5.2,0.0949],[6.0,0.0949],
[3.3,0.0957],[3.6,0.0963],[3.8,0.0952],[3.95,0.0968],[4.05,0.0957],[4.15,0.0962],[4.25,0.0953],[4.35,0.0970],[4.45,0.0959],[4.55,0.0965],[4.65,0.0952],[4.75,0.0969],[4.85,0.0956],[4.95,0.0963],[5.05,0.0971],[5.15,0.0954],[5.25,0.0961],[5.35,0.0967],[5.45,0.0953],[5.55,0.0959],[5.65,0.0970],[5.75,0.0955],[5.85,0.0964],[5.95,0.0958],[6.05,0.0968],[6.15,0.0953],[6.25,0.0962],[6.35,0.0957],[6.45,0.0969],[6.55,0.0955],[6.65,0.0963],[6.8,0.0958],[6.95,0.0966],[7.1,0.0956],[7.2,0.0962],[4.5,0.0973],[5.5,0.0974],[4.0,0.0974],[6.0,0.0974],
[3.4,0.0985],[3.6,0.0993],[3.75,0.0980],[3.9,0.0989],[4.0,0.0997],[4.1,0.0983],[4.2,0.0991],[4.3,0.0978],[4.4,0.0995],[4.5,0.0986],[4.6,0.0999],[4.7,0.0981],[4.8,0.0990],[4.9,0.0996],[5.0,0.0984],[5.1,0.0993],[5.2,0.0979],[5.3,0.0988],[5.4,0.0998],[5.5,0.0982],[5.6,0.0991],[5.7,0.0986],[5.8,0.0997],[5.9,0.0980],[6.0,0.0989],[6.1,0.0995],[6.2,0.0983],[6.3,0.0979],[6.4,0.0992],[6.5,0.0985],[6.7,0.0990],[6.85,0.0981],[3.5,0.0977],[4.45,0.0977],[5.25,0.0999],[4.25,0.0999],[5.65,0.0978],[6.6,0.0977],
[3.85,0.0961],[4.02,0.0948],[4.12,0.0977],[4.22,0.0942],[4.33,0.0962],[4.43,0.0984],[4.52,0.0951],[4.62,0.0975],[4.72,0.0943],[4.82,0.0964],[4.92,0.0987],[5.02,0.0953],[5.12,0.0976],[5.22,0.0939],[5.32,0.0958],[5.42,0.0982],[5.52,0.0944],[5.62,0.0965],[5.72,0.0989],[5.82,0.0950],[5.92,0.0972],[6.02,0.0943],[6.12,0.0962],[6.22,0.0985],[6.32,0.0948],[6.42,0.0976],[6.52,0.0964],[6.62,0.0950],[6.72,0.0982],[4.57,0.0993],[4.97,0.0996],[5.37,0.0993],[5.77,0.0995],[4.17,0.0994],[3.95,0.0983],[4.47,0.0933],[4.87,0.0932],[5.27,0.0929],[5.67,0.0935],[6.07,0.0926],[6.47,0.0932],[4.75,0.0915],[5.45,0.0911],[6.25,0.0913],[3.72,0.0969],[3.62,0.0982]
];

const inactiveVegetation = [
[3.56,0.0816],[5.19,0.0827],[5.57,0.0818],[8.32,0.0840],[2.99,0.0836],[3.16,0.0840],[3.64,0.0835],[3.50,0.0840],[3.64,0.0847],[4.71,0.0853],[4.42,0.0861],[4.54,0.0862],[3.04,0.0859],[3.38,0.0861],[3.44,0.0863],[1.72,0.0862],[1.75,0.0864],[4.12,0.0859],[5.88,0.0864],[6.36,0.0869],[7.08,0.0868],[8.28,0.0876],[8.45,0.0890],[3.95,0.0874],[4.33,0.0874],[4.54,0.0878],[4.79,0.0874],[4.12,0.0878],[4.24,0.0881],[4.33,0.0880],[3.47,0.0881],[3.81,0.0890],[3.73,0.0893],[5.10,0.0882],[5.31,0.0889],[5.27,0.0893],[5.02,0.0895],[5.88,0.0889],[6.05,0.0901],[6.08,0.0905],[1.96,0.0881],[2.18,0.0883],[2.41,0.0879],[2.10,0.0897],[2.35,0.0900],[2.47,0.0902],[2.96,0.0890],[3.50,0.0903],[3.64,0.0909],[3.78,0.0905],[4.12,0.0898],[4.19,0.0902],[6.56,0.0898],[6.74,0.0904],[7.0,0.0910],[7.08,0.0900],[7.59,0.0907],[7.77,0.0912],[8.11,0.0915],[1.29,0.0898],[0.86,0.0909],[1.07,0.0912],[1.32,0.0918],[1.07,0.0931],[2.96,0.0911],[3.09,0.0919],[3.30,0.0917],[2.41,0.0919],[2.65,0.0922],[1.84,0.0920],[1.92,0.0927],[1.58,0.0932],[4.50,0.0919],[4.67,0.0920],[4.85,0.0915],[5.02,0.0912],[5.10,0.0916],[5.27,0.0919],[5.50,0.0919],[6.05,0.0924],[6.19,0.0922],[6.36,0.0925],[6.56,0.0926],[6.77,0.0920],[7.08,0.0927],[7.17,0.0932],[7.46,0.0928],[7.77,0.0931],[7.85,0.0936],[7.97,0.0939],[8.14,0.0942],[7.90,0.0953],[7.97,0.0955],[8.11,0.0963],[8.28,0.0963],[8.45,0.0961],[8.76,0.0967],[8.45,0.0977],[8.07,0.0973],[9.40,0.0983],[8.85,0.0999],[0.07,0.0959],[0.38,0.0963],
[0.5,0.0940],[0.7,0.0948],[0.9,0.0935],[1.1,0.0944],[1.3,0.0952],[1.5,0.0938],[1.7,0.0946],[1.9,0.0933],[2.1,0.0941],[2.3,0.0950],[2.5,0.0937],[2.7,0.0945],[2.9,0.0953],[3.1,0.0939],[3.3,0.0948],[3.5,0.0934],[3.7,0.0943],[3.9,0.0951],[4.1,0.0938],[4.3,0.0946],[4.5,0.0932],[4.7,0.0942],[4.9,0.0950],[5.1,0.0937],[5.3,0.0945],[5.5,0.0953],[5.7,0.0940],[5.9,0.0948],[6.1,0.0935],[6.3,0.0943],[6.5,0.0951],[6.7,0.0939],[6.9,0.0947],[7.1,0.0942],[7.3,0.0950],[7.5,0.0944],[2.0,0.0925],[2.6,0.0928],[3.2,0.0926],[5.8,0.0930],[6.6,0.0933],[1.2,0.0927],
[0.3,0.0962],[0.55,0.0970],[0.8,0.0958],[1.0,0.0966],[1.2,0.0974],[1.4,0.0960],[1.6,0.0968],[1.8,0.0957],[2.0,0.0965],[2.2,0.0973],[2.4,0.0961],[2.6,0.0969],[2.8,0.0958],[3.0,0.0966],[3.2,0.0975],[3.4,0.0962],[3.6,0.0970],[3.8,0.0957],[4.0,0.0965],[4.2,0.0973],[4.4,0.0960],[4.6,0.0968],[4.8,0.0957],[5.0,0.0965],[5.2,0.0974],[5.4,0.0961],[5.6,0.0969],[5.8,0.0958],[6.0,0.0966],[6.2,0.0975],[6.4,0.0962],[6.6,0.0970],[6.8,0.0959],[7.0,0.0967],[7.2,0.0975],[7.4,0.0962],[7.6,0.0969],[7.8,0.0958],[8.2,0.0968],
[0.1,0.0993],[0.2,0.0991],[0.35,0.0995],[0.6,0.0985],[0.8,0.0990],[1.0,0.0997],[1.2,0.0983],[1.4,0.0992],[1.6,0.0998],[1.8,0.0986],[2.0,0.0994],[2.2,0.0981],[2.4,0.0990],[2.6,0.0997],[2.8,0.0984],[3.0,0.0993],[3.2,0.0999],[3.4,0.0987],[3.6,0.0995],[3.8,0.0982],[4.0,0.0991],[4.2,0.0998],[4.4,0.0985],[4.6,0.0993],[4.8,0.0980],[5.0,0.0989],[5.2,0.0997],[5.4,0.0984],[5.6,0.0992],[5.8,0.0999],[6.0,0.0986],[6.2,0.0994],[6.4,0.0981],[6.6,0.0990],[6.8,0.0997],[7.0,0.0985],[7.2,0.0993],[7.4,0.0980],[7.6,0.0989],[8.0,0.0996],[1.5,0.0979],[3.1,0.0980],[4.7,0.0999],[2.7,0.0999],
[0.4,0.0978],[0.7,0.0987],[1.1,0.0979],[1.3,0.0963],[1.7,0.0980],[1.9,0.0969],[2.1,0.0955],[2.3,0.0986],[2.5,0.0966],[2.9,0.0974],[3.3,0.0957],[3.5,0.0979],[3.7,0.0962],[3.9,0.0985],[4.1,0.0955],[4.3,0.0978],[4.5,0.0966],[4.9,0.0975],[5.3,0.0962],[5.7,0.0980],[6.1,0.0958],[6.5,0.0983],[6.9,0.0962],[7.3,0.0983],[7.7,0.0953],[0.25,0.0980],[0.15,0.0997],[2.5,0.0915],[3.4,0.0925],[4.0,0.0920],[4.4,0.0927],[5.5,0.0927],[6.9,0.0920],[2.8,0.0932],[3.8,0.0932],[1.6,0.0918],[4.6,0.0907],[5.4,0.0905],[3.0,0.0945],[5.6,0.0944]
];

const panelData = [naturalForest, mixedForest, secondaryForest, grass, bareLand, orchard, activeVegetation, inactiveVegetation];

// ---------- LAYOUT ----------
const gridBoxes = [
  [95.7,16.7,194.3,196],[368.3,15,195,195.7],[640.7,15,195.3,194.3],[912.7,13.3,195.6,194],
  [95,287.7,194.3,195],[367.7,286.7,195.6,194.3],[640.7,284.3,195.3,195],[912.7,282.3,194,195.4]
];
const titleAnchors = [[205,33],[469,28],[723,29],[1005,28],[198,302],[479,298],[645,294],[936,292]];
const FONT = '"Liberation Sans", Arial, sans-serif';

const fmt = v => String(+(+v).toFixed(4));

const option = {
  animation: false,
  backgroundColor: '#fff',
  grid: gridBoxes.map(b => ({left:b[0], top:b[1], width:b[2], height:b[3], containLabel:false})),
  xAxis: xRanges.map((r,i) => ({
    type:'value', gridIndex:i, min:r[0], max:r[1], interval:r[2],
    axisLine:{show:true, onZero:false, lineStyle:{color:'#000', width:1}},
    axisTick:{show:true, inside:false, length:16, lineStyle:{color:'#000', width:1}},
    minorTick:{show:true, splitNumber:2, length:8, lineStyle:{color:'#000', width:1}},
    splitLine:{show:false}, minorSplitLine:{show:false},
    axisLabel:{show:true, margin:23, fontSize:13, fontFamily:FONT, color:'#111', formatter:fmt, showMinLabel:true, showMaxLabel:true}
  })),
  yAxis: xRanges.map((r,i) => ({
    type:'value', gridIndex:i, min:yRange[0], max:yRange[1], interval:yRange[2], inverse:true,
    axisLine:{show:true, onZero:false, lineStyle:{color:'#000', width:1}},
    axisTick:{show:true, inside:false, length:18, lineStyle:{color:'#000', width:1}},
    minorTick:{show:true, splitNumber:2, length:10, lineStyle:{color:'#000', width:1}},
    splitLine:{show:false}, minorSplitLine:{show:false},
    axisLabel:{show:true, margin:26, fontSize:14, fontFamily:FONT, color:'#111', formatter:fmt, showMinLabel:true, showMaxLabel:true}
  })),
  series: panelData.map((d,i) => ({
    type:'scatter', xAxisIndex:i, yAxisIndex:i, data:d, symbol:'circle', symbolSize:6,
    itemStyle:{color:'#000', opacity:1}, silent:true, clip:false
  })),
  graphic: [
    ...panelTitles.map((t,i) => ({
      type:'text', x:titleAnchors[i][0], y:titleAnchors[i][1], z:10,
      style:{text:t, font:'bold 16px ' + FONT, fill:'#000', textAlign:'left', textVerticalAlign:'middle'}
    })),
    {type:'text', x:18, y:114, rotation:Math.PI/2, style:{text:yAxisName, font:'bold 18px ' + FONT, fill:'#000', textAlign:'center', textVerticalAlign:'middle'}},
    {type:'text', x:18, y:384, rotation:Math.PI/2, style:{text:yAxisName, font:'bold 18px ' + FONT, fill:'#000', textAlign:'center', textVerticalAlign:'middle'}},
    {type:'text', x:601, y:550, style:{text:xAxisTitle, font:'bold 18px ' + FONT, fill:'#000', textAlign:'center', textVerticalAlign:'middle'}}
  ]
};
const chart = echarts.init(document.getElementById('c'), null, {renderer:'canvas'});
chart.setOption(option);
</script></body></html>
